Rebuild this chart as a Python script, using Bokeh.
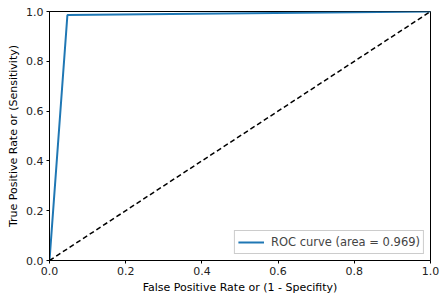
from bokeh.plotting import figure
from bokeh.models import Range1d, FixedTicker, Legend, LegendItem, CustomJSTickFormatter
from bokeh.embed import file_html
from bokeh.resources import INLINE

fpr = [0.0, 0.047, 1.0]
tpr = [0.0, 0.986, 1.0]
diag_x = [0.0, 1.0]
diag_y = [0.0, 1.0]
ticks = [0.0, 0.2, 0.4, 0.6, 0.8, 1.0]
roc_label = "ROC curve (area = 0.969)"

p = figure(output_backend="svg", toolbar_location=None,
           frame_width=381, frame_height=249,
           min_border_left=49, min_border_top=11, min_border_right=10, min_border_bottom=36,
           x_range=Range1d(0, 1), y_range=Range1d(0, 1))
p.outline_line_color = "black"
p.outline_line_width = 1
p.xgrid.visible = False
p.ygrid.visible = False

roc = p.line(fpr, tpr, line_color="#1f77b4", line_width=2)
p.line(diag_x, diag_y, line_color="black", line_width=1.5, line_dash="5 3")

for ax, lbl in ((p.xaxis, "False Positive Rate or (1 - Specifity)"),
                (p.yaxis, "True Positive Rate or (Sensitivity)")):
    ax.ticker = FixedTicker(ticks=ticks)
    ax.axis_label = lbl
    ax.axis_label_text_font = "DejaVu Sans"
    ax.axis_label_text_font_size = "11px"
    ax.axis_label_text_font_style = "normal"
    ax.axis_label_text_color = "black"
    ax.major_label_text_font = "DejaVu Sans"
    ax.major_label_text_font_size = "11px"
    ax.major_label_text_color = "#222222"
    ax.minor_tick_line_color = None
    ax.major_tick_in = 0
    ax.major_tick_out = 3
    ax.axis_line_color = "black"
    ax.axis_label_standoff = 3
    ax.major_label_standoff = 3
fmt = CustomJSTickFormatter(code="return tick.toFixed(1);")
p.xaxis.formatter = fmt
p.yaxis.formatter = fmt

legend = Legend(items=[LegendItem(label=roc_label, renderers=[roc])],
                location="bottom_right",
                label_text_font="DejaVu Sans", label_text_font_size="11.5px",
                border_line_color="#cccccc", border_line_alpha=1,
                background_fill_alpha=0.8, margin=6, padding=3,
                glyph_width=26, glyph_height=16, label_height=16,
                label_standoff=7, spacing=0)
p.add_layout(legend)

open("out.html", "w").write(file_html(p, INLINE))
